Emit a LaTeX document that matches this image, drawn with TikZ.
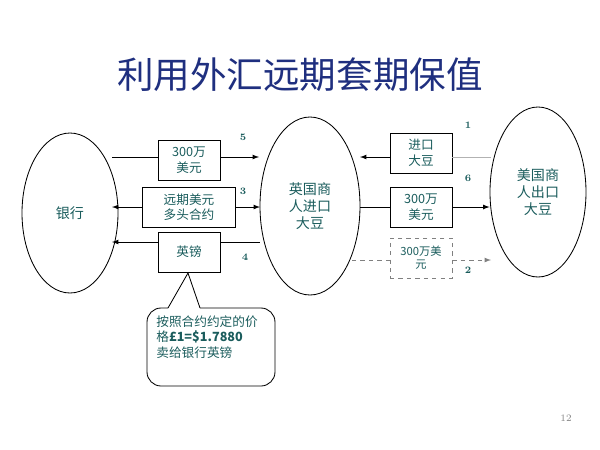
\documentclass[tikz,border=0pt]{standalone}
\usepackage{fontspec}
\newfontfamily\cjk{Noto Sans CJK SC}
\usetikzlibrary{positioning,shapes.geometric}
\definecolor{txt}{HTML}{1A5C5C}
\definecolor{navy}{HTML}{1F2F7F}
\begin{document}
\begin{tikzpicture}[x=0.025cm, y=-0.025cm, semithick, >=latex,
    party/.style = {draw, ellipse, inner sep=0pt, font=\cjk\normalsize, text=txt, align=center},
    money/.style = {draw, rectangle, minimum width=62*0.025cm, minimum height=40*0.025cm, inner sep=1pt, font=\cjk\small, text=txt, align=center},
    num/.style = {font=\bfseries\scriptsize, text=txt}]
    \useasboundingbox (0,0) rectangle (600,449);
    \node[font=\cjk\fontsize{26}{30}\selectfont, text=navy] (title) at (300,75) {利用外汇远期套期保值};
    %parties
    \node[party, minimum width=96*0.025cm, minimum height=160*0.025cm] (bank) at (70,213) {银行};
    \node[party, minimum width=100*0.025cm, minimum height=178*0.025cm] (uk) at (310,206) {英国商\\人进口\\大豆};
    \node[party, minimum width=96*0.025cm, minimum height=170*0.025cm] (us) at (538,192) {美国商\\人出口\\大豆};
    %flows with bank
    \node[money] (m5) at (189,160) {300万\\美元};
    \node[money, minimum width=93*0.025cm] (m3) at (189,207) {远期美元\\多头合约};
    \node[money] (m4) at (189,252) {英镑};
    \coordinate (b5) at (112,157);
    \coordinate (b3) at (112,207);
    \coordinate (b4) at (112,242);
    \coordinate (u5) at (259,157);
    \coordinate (u3) at (260,207);
    \coordinate (u4) at (260,242);
    \draw (b5) -- (m5.west |- b5);
    \draw[->] (m5.east |- u5) -- (u5);
    \draw[<-] (b3) -- (m3.west);
    \draw[->] (m3.east) -- (u3);
    \draw[<-] (b4) -- (m4.west |- b4);
    \draw (m4.east |- u4) -- (u4);
    \node[num] (n5) at (243,137) {5};
    \node[num] (n3) at (243,191) {3};
    \node[num] (n4) at (245,257) {4};
    %flows with us
    \node[money] (m1) at (421,153) {进口\\大豆};
    \node[money] (m6) at (421,207) {300万\\美元};
    \node[money, draw=gray, dashed, font=\cjk\footnotesize] (m2) at (421,258) {300万美\\元};
    \coordinate (r1) at (491,157);
    \coordinate (l1) at (360,157);
    \coordinate (r2) at (491,260);
    \coordinate (l2) at (352,260);
    \draw[<-] (l1) -- (m1.west |- l1);
    \draw[gray!60, thin] (m1.east |- r1) -- (r1);
    \draw (uk.east |- m6) -- (m6.west);
    \draw[->] (m6.east) -- (us.west |- m6);
    \draw[gray, dashed] (l2) -- (m2.west |- l2);
    \draw[gray, dashed, ->] (m2.east |- r2) -- (r2);
    \node[num] (n1) at (468,125) {1};
    \node[num] (n6) at (468,178) {6};
    \node[num] (n2) at (468,270) {2};
    %callout
    \coordinate (tip) at (188,273);
    \draw[rounded corners=10pt] (168,308) -- (147,308) -- (147,386) -- (275,386) -- (275,308) -- (200,308);
    \draw (168,308) -- (tip) -- (200,308);
    \node[font=\cjk\small, text=txt, align=left, anchor=north west, inner sep=0pt] (note) at (156,315)
        {按照合约约定的价\\格\textbf{£1=\$1.7880}\\卖给银行英镑};
    \node[font=\scriptsize, text=gray] (page) at (566,418) {12};
\end{tikzpicture}
\end{document}
